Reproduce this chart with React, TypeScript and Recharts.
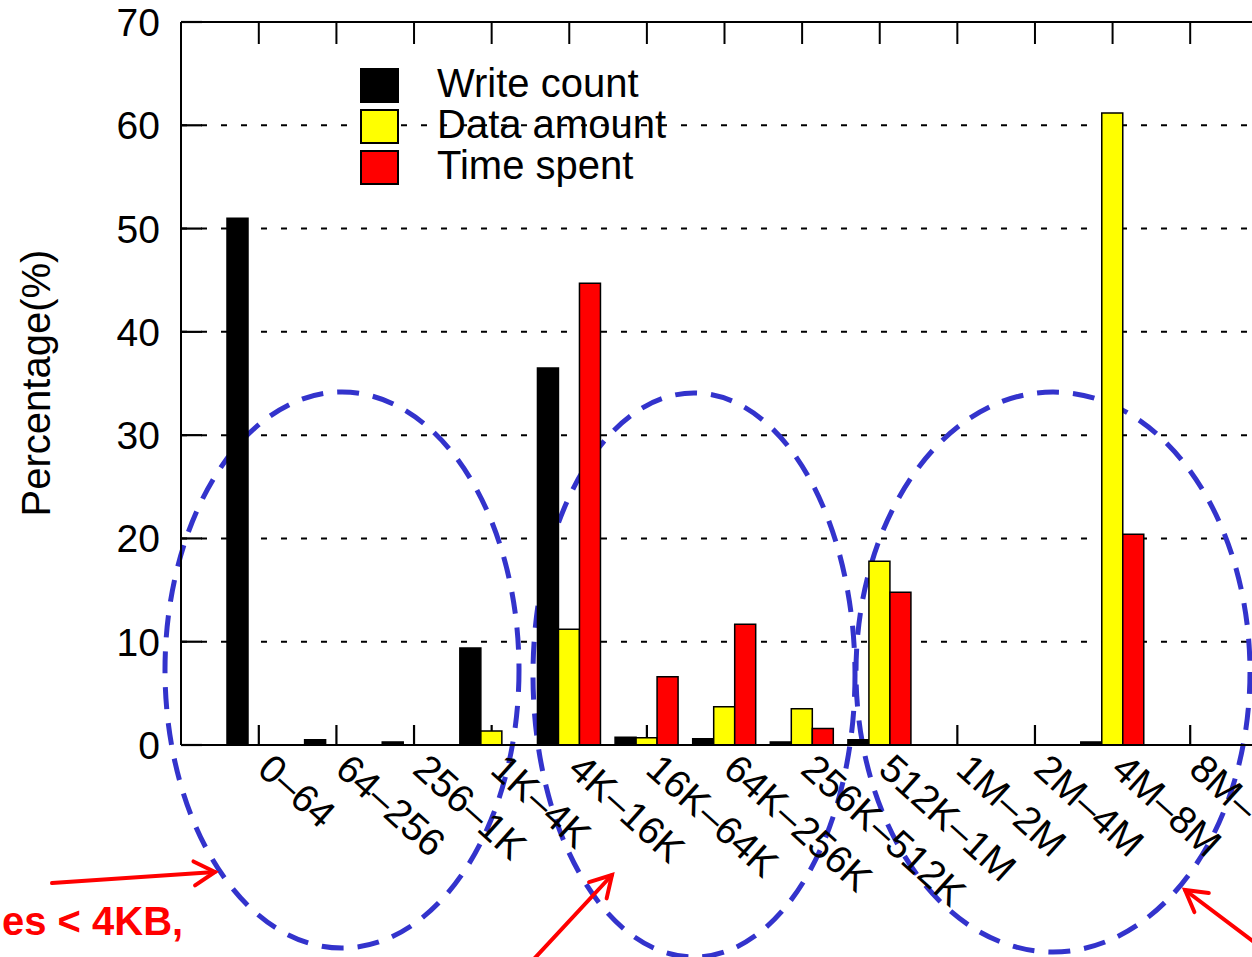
import React from 'react';
import { BarChart, Bar, XAxis, YAxis, CartesianGrid, Customized, ReferenceLine } from 'recharts';

const categories = ['0–64', '64–256', '256–1K', '1K–4K', '4K–16K', '16K–64K', '64K–256K', '256K–512K', '512K–1M', '1M–2M', '2M–4M', '4M–8M', '8M–'];
const writeCount = [51, 0.5, 0.3, 9.4, 36.5, 0.75, 0.6, 0.3, 0.5, 0, 0, 0.3, 0];
const dataAmount = [0, 0, 0, 1.35, 11.2, 0.7, 3.7, 3.5, 17.8, 0, 0, 61.2, 0];
const timeSpent = [0, 0, 0, 0, 44.7, 6.6, 11.7, 1.6, 14.8, 0, 0, 20.4, 0];
const yTicks = [0, 10, 20, 30, 40, 50, 60, 70];
const yMax = 70;
const seriesNames = ['Write count', 'Data amount', 'Time spent'];
const seriesColors = ['#000000', '#ffff00', '#ff0000'];
const yLabel = 'Percentage(%)';
const noteText = 'es < 4KB,';

const data = categories.map((c, i) => ({ cat: c, write: writeCount[i], amount: dataAmount[i], time: timeSpent[i] }));

const FONT = '"Liberation Sans", Arial, Helvetica, sans-serif';

// chart geometry
const CHART_W = 1300;
const CHART_H = 957;
const M_TOP = 22;
const M_RIGHT = 32;
const Y_AXIS_W = 181;
const X_AXIS_H = 212;
const X_PAD = 39;
const PLOT_LEFT = Y_AXIS_W;
const PLOT_TOP = M_TOP;
const PLOT_W = CHART_W - M_RIGHT - Y_AXIS_W;
const PLOT_H = CHART_H - M_TOP - X_AXIS_H;

const XTick = (props: any) => {
  const { x, y, payload } = props;
  const ax = x - 3;
  const ay = y;
  return (
    <text x={ax} y={ay} transform={`rotate(42 ${ax} ${ay})`} fontSize={39} fontFamily={FONT} fill="#000" textAnchor="start">
      {payload.value}
    </text>
  );
};

const YTick = (props: any) => {
  const { x, y, payload } = props;
  return (
    <text x={x} y={y} dy="0.36em" fontSize={39} fontFamily={FONT} fill="#000" textAnchor="end">
      {payload.value}
    </text>
  );
};

// underlay: legend + inward tick marks on the left and bottom axes (gnuplot style)
const Underlay = () => {
  const bw = (PLOT_W - 2 * X_PAD) / categories.length;
  const bottom = PLOT_TOP + PLOT_H;
  return (
    <g>
      <g stroke="#000" strokeWidth={2.2} fill="none">
        {yTicks.map((v) => {
          const yy = PLOT_TOP + PLOT_H * (1 - v / yMax);
          return <path key={'y' + v} d={`M${PLOT_LEFT},${yy}H${PLOT_LEFT + 21}`} />;
        })}
        {categories.map((c, i) => {
          const xx = PLOT_LEFT + X_PAD + bw * (i + 0.5);
          return <path key={'x' + i} d={`M${xx},${bottom}V${bottom - 20}`} />;
        })}
      </g>
      {seriesNames.map((n, i) => (
        <g key={n}>
          <rect x={361} y={69 + i * 41} width={37} height={33} fill={seriesColors[i]} stroke="#000" strokeWidth={2} />
          <text x={437} y={97 + i * 41} fontSize={40} fontFamily={FONT} fill="#000">{n}</text>
        </g>
      ))}
    </g>
  );
};

const Arrow = ({ x1, y1, x2, y2 }: { x1: number; y1: number; x2: number; y2: number }) => {
  const a = Math.atan2(y2 - y1, x2 - x1);
  const L = 24;
  const s = Math.PI / 6;
  const hx1 = x2 - L * Math.cos(a - s);
  const hy1 = y2 - L * Math.sin(a - s);
  const hx2 = x2 - L * Math.cos(a + s);
  const hy2 = y2 - L * Math.sin(a + s);
  return (
    <g stroke="#ff0000" strokeWidth={4} fill="none" strokeLinecap="round">
      <line x1={x1} y1={y1} x2={x2} y2={y2} />
      <polyline points={`${hx1},${hy1} ${x2},${y2} ${hx2},${hy2}`} />
    </g>
  );
};

const Annotations = () => (
  <g>
    <g fill="none" stroke="#3333cc" strokeWidth={5} strokeDasharray="22 14">
      <ellipse cx={342} cy={670} rx={177} ry={278} />
      <ellipse cx={694} cy={675} rx={161} ry={282} />
      <ellipse cx={1053} cy={672} rx={197} ry={280} />
    </g>
    <Arrow x1={52} y1={883} x2={215} y2={872} />
    <Arrow x1={533} y1={960} x2={612} y2={875} />
    <Arrow x1={1262} y1={948} x2={1185} y2={890} />
    <text x={2} y={935} textAnchor="start" fontSize={40} fontWeight="bold" fontFamily={FONT} fill="#ff0000">{noteText}</text>
  </g>
);

const topTickLen = 22 * yMax / PLOT_H;

export default function App() {
  return (
    <div style={{ position: 'absolute', left: 0, top: 0, width: 1252, height: 957, overflow: 'hidden', background: '#fff' }}>
      <BarChart
        width={CHART_W}
        height={CHART_H}
        data={data}
        margin={{ top: M_TOP, right: M_RIGHT, bottom: 0, left: 0 }}
        barGap={0}
        barSize={21}
      >
        <Customized component={Underlay} />
        <CartesianGrid vertical={false} stroke="#000" strokeWidth={2} strokeDasharray="6 14" />
        <XAxis
          dataKey="cat"
          type="category"
          height={X_AXIS_H}
          padding={{ left: X_PAD, right: X_PAD }}
          axisLine={{ stroke: '#000', strokeWidth: 2 }}
          tickLine={false}
          tickSize={-20}
          tickMargin={47}
          tick={<XTick />}
          interval={0}
        />
        <YAxis
          width={Y_AXIS_W}
          domain={[0, yMax]}
          ticks={yTicks}
          interval={0}
          axisLine={{ stroke: '#000', strokeWidth: 2 }}
          tickLine={false}
          tickSize={-21}
          tickMargin={42}
          tick={<YTick />}
          label={{
            content: () => (
              <text x={36} y={383} transform="rotate(-90 36 383)" textAnchor="middle" dominantBaseline="central" fontSize={40} fontFamily={FONT} fill="#000">
                {yLabel}
              </text>
            ),
          }}
        />
        <ReferenceLine y={yMax} stroke="#000" strokeWidth={2} />
        {categories.map((c) => (
          <ReferenceLine key={'t' + c} segment={[{ x: c, y: yMax }, { x: c, y: yMax - topTickLen }]} stroke="#000" strokeWidth={2} />
        ))}
        <Bar dataKey="write" name={seriesNames[0]} fill={seriesColors[0]} stroke="#000" strokeWidth={1.5} isAnimationActive={false} />
        <Bar dataKey="amount" name={seriesNames[1]} fill={seriesColors[1]} stroke="#000" strokeWidth={1.5} isAnimationActive={false} />
        <Bar dataKey="time" name={seriesNames[2]} fill={seriesColors[2]} stroke="#000" strokeWidth={1.5} isAnimationActive={false} />
        <Customized component={Annotations} />
      </BarChart>
    </div>
  );
}
